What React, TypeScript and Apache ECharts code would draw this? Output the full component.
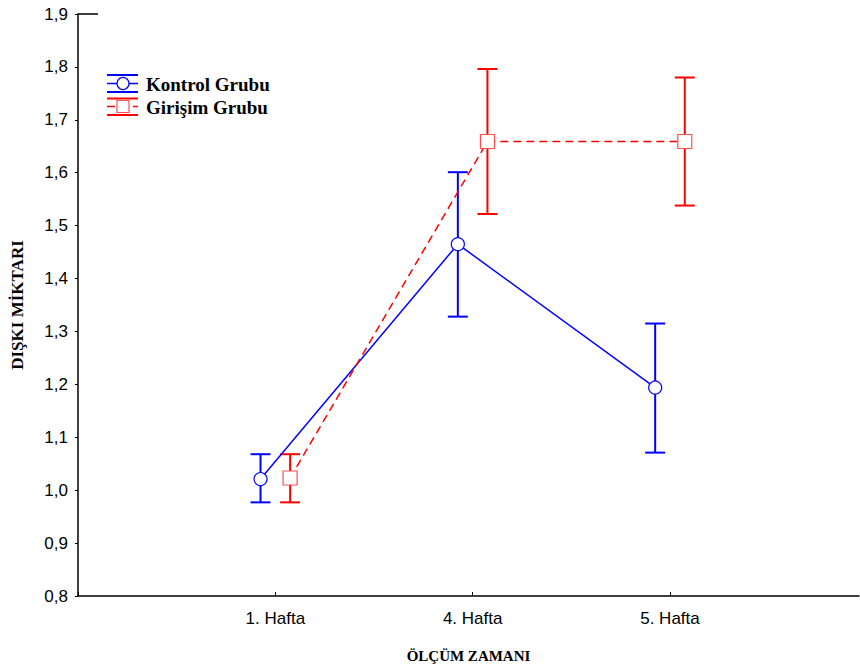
import React, { useEffect, useRef } from "react";
import * as echarts from "echarts";

const weeks = ["1. Hafta", "4. Hafta", "5. Hafta"];
const seriesNames = ["Kontrol Grubu", "Girişim Grubu"];
const kontrolMean = [1.021, 1.465, 1.194];
const kontrolLow = [0.977, 1.328, 1.071];
const kontrolHigh = [1.068, 1.601, 1.315];
const girisimMean = [1.023, 1.659, 1.659];
const girisimLow = [0.977, 1.522, 1.538];
const girisimHigh = [1.068, 1.796, 1.78];
const yTicks = [0.8, 0.9, 1.0, 1.1, 1.2, 1.3, 1.4, 1.5, 1.6, 1.7, 1.8, 1.9];
const xTitle = "ÖLÇÜM ZAMANI";
const yTitle = "DIŞKI MİKTARI";

const BLUE = "#0000ff";
const RED = "#ff0000";
const OFFSET = 0.075;

export default function App() {
  const ref = useRef<HTMLDivElement>(null);
  useEffect(() => {
    if (!ref.current) return;
    const chart = echarts.init(ref.current, null, { renderer: "svg" });
    const kPts = kontrolMean.map((v, i) => [i + 1 - OFFSET, v]);
    const gPts = girisimMean.map((v, i) => [i + 1 + OFFSET, v]);
    const kErr = kontrolMean.map((_, i) => [i + 1 - OFFSET, kontrolLow[i], kontrolHigh[i]]);
    const gErr = girisimMean.map((_, i) => [i + 1 + OFFSET, girisimLow[i], girisimHigh[i]]);
    const errRender = (color: string) => (params: any, api: any) => {
      const x = api.value(0);
      const lo = api.coord([x, api.value(1)]);
      const hi = api.coord([x, api.value(2)]);
      const hw = 10;
      const style = { stroke: color, lineWidth: 2 };
      return {
        type: "group",
        children: [
          { type: "line", shape: { x1: lo[0], y1: lo[1], x2: hi[0], y2: hi[1] }, style },
          { type: "line", shape: { x1: lo[0] - hw, y1: lo[1], x2: lo[0] + hw, y2: lo[1] }, style },
          { type: "line", shape: { x1: hi[0] - hw, y1: hi[1], x2: hi[0] + hw, y2: hi[1] }, style },
        ],
      };
    };
    const option: any = {
      animation: false,
      backgroundColor: "#fff",
      grid: { left: 78, top: 14, width: 781, height: 582, outerBoundsMode: "none", containLabel: false },
      legend: {
        orient: "vertical",
        left: 102,
        top: 69,
        padding: 5,
        itemWidth: 34,
        itemHeight: 20,
        itemGap: 3,
        icon: "rect",
        itemStyle: { color: "transparent", borderWidth: 0, opacity: 0 },
        textStyle: { fontFamily: "Liberation Serif", fontWeight: "bold", fontSize: 19, color: "#000" },
        data: seriesNames,
        selectedMode: false,
      },
      xAxis: {
        type: "value",
        min: 0,
        max: 3.958,
        interval: 1,
        splitLine: { show: false },
        axisLine: { lineStyle: { color: "#000", width: 1.5 } },
        axisTick: { inside: true, length: 4, lineStyle: { color: "#000" } },
        axisLabel: {
          color: "#000",
          fontFamily: "Liberation Sans",
          fontSize: 17,
          margin: 14,
          showMaxLabel: false,
          formatter: (v: number) => (Number.isInteger(v) && v >= 1 && v <= weeks.length ? weeks[v - 1] : ""),
        },
        name: xTitle,
        nameLocation: "middle",
        nameGap: 52,
        nameTextStyle: { fontFamily: "Liberation Serif", fontWeight: "bold", fontSize: 15, color: "#000" },
      },
      yAxis: {
        type: "value",
        min: yTicks[0],
        max: yTicks[yTicks.length - 1],
        interval: 0.1,
        splitLine: { show: false },
        axisLine: { lineStyle: { color: "#000", width: 1.5 } },
        axisTick: { inside: false, length: 3, lineStyle: { color: "#000" } },
        axisLabel: {
          color: "#000",
          fontFamily: "Liberation Sans",
          fontSize: 17,
          margin: 10,
          formatter: (v: number) => v.toFixed(1).replace(".", ","),
        },
        name: yTitle,
        nameLocation: "middle",
        nameGap: 52,
        nameTextStyle: { fontFamily: "Liberation Serif", fontWeight: "bold", fontSize: 17, color: "#000" },
      },
      series: [
        {
          type: "custom",
          name: "kErr",
          data: kErr,
          renderItem: errRender(BLUE),
          z: 1,
          silent: true,
        },
        {
          type: "custom",
          name: "gErr",
          data: gErr,
          renderItem: errRender(RED),
          z: 1,
          silent: true,
        },
        {
          type: "line",
          name: seriesNames[0],
          data: kPts,
          symbol: "circle",
          symbolSize: 13,
          lineStyle: { color: BLUE, width: 1.5 },
          itemStyle: { color: "#fff", borderColor: BLUE, borderWidth: 1.2 },
          z: 3,
        },
        {
          type: "line",
          name: seriesNames[1],
          data: gPts,
          symbol: "rect",
          symbolSize: 14,
          lineStyle: { color: RED, width: 1.5, type: [8, 5] },
          itemStyle: { color: "#fff", borderColor: "#ff5050", borderWidth: 1.2 },
          z: 3,
        },
      ],
      graphic: [
        { type: "line", shape: { x1: 78, y1: 14, x2: 98, y2: 14 }, style: { stroke: "#000", lineWidth: 1.5 } },
        // legend icon: Kontrol
        { type: "line", shape: { x1: 107, y1: 75, x2: 138, y2: 75 }, style: { stroke: BLUE, lineWidth: 2 } },
        { type: "line", shape: { x1: 107, y1: 83.5, x2: 138, y2: 83.5 }, style: { stroke: BLUE, lineWidth: 1.5 } },
        { type: "line", shape: { x1: 107, y1: 92, x2: 138, y2: 92 }, style: { stroke: BLUE, lineWidth: 2 } },
        { type: "circle", shape: { cx: 123, cy: 83.5, r: 6 }, style: { fill: "#fff", stroke: BLUE, lineWidth: 1.2 } },
        // legend icon: Girişim
        { type: "line", shape: { x1: 107, y1: 98.5, x2: 138, y2: 98.5 }, style: { stroke: RED, lineWidth: 2 } },
        { type: "line", shape: { x1: 107, y1: 106.5, x2: 138, y2: 106.5 }, style: { stroke: RED, lineWidth: 1.5, lineDash: [8, 5] } },
        { type: "line", shape: { x1: 107, y1: 115, x2: 138, y2: 115 }, style: { stroke: RED, lineWidth: 2 } },
        { type: "rect", shape: { x: 117, y: 100.5, width: 12, height: 12 }, style: { fill: "#fff", stroke: "#ff5050", lineWidth: 1.2 } },
      ],
    };
    chart.setOption(option);
    return () => chart.dispose();
  }, []);
  return (
    <div
      ref={ref}
      style={{ position: "fixed", left: 0, top: 0, width: 860, height: 670, background: "#fff" }}
    />
  );
}
